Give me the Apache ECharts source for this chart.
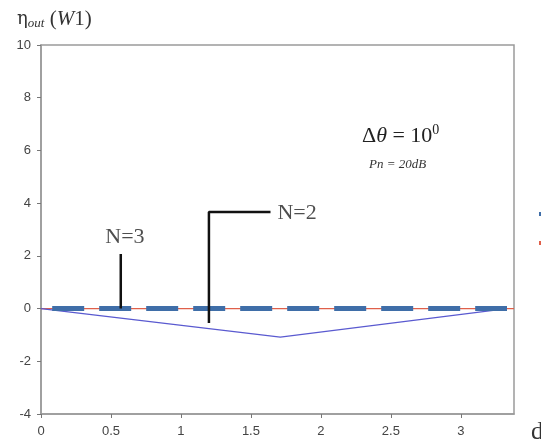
<!DOCTYPE html>
<html lang="en">
<head>
    <meta charset="UTF-8">
    <title>eta out</title>
    <script src="https://cdn.jsdelivr.net/npm/echarts@6/dist/echarts.min.js"></script>
    <style>
        html, body { margin: 0; padding: 0; background: #fff; }
    </style>
</head>
<body>
    <div id="main" style="width: 541px; height: 443px;"></div>

    <script type="text/javascript">
        // axis ticks
        var xTicks = [0, 0.5, 1, 1.5, 2, 2.5, 3];
        var yTicks = [-4, -2, 0, 2, 4, 6, 8, 10];

        // thick dashed blue series (flat at zero)
        var dashX = [0.08, 3.33];
        var dashY = [0, 0];
        // thin red series (flat at zero)
        var redX = [0, 3.38];
        var redY = [0, 0];
        // thin blue series (dips below zero)
        var thinX = [0, 1.71, 3.33];
        var thinY = [0, -1.08, 0];

        // N=3 / N=2 pointer lines, in data units
        var n3X = [0.57, 0.57];
        var n3Y = [0, 2.07];
        var n2X = [1.2, 1.2, 1.64];
        var n2Y = [-0.55, 3.66, 3.66];
        var noteNames = ['N=3', 'N=2'];
        var noteX = [0.6, 1.83];
        var noteY = [2.72, 3.63];

        function pairs(xs, ys) {
            var out = [];
            for (var i = 0; i < xs.length; i++) out.push([xs[i], ys[i]]);
            return out;
        }

        var noteData = [];
        for (var i = 0; i < noteNames.length; i++) {
            noteData.push({ value: [noteX[i], noteY[i]], name: noteNames[i] });
        }

        var myChart = echarts.init(document.getElementById('main'));
        var option = {
            animation: false,
            backgroundColor: '#fff',
            grid: {
                left: 41, top: 45, right: 27, bottom: 29,
                outerBoundsMode: 'none',
                show: true, borderColor: '#9a9a9a', borderWidth: 1.5
            },
            title: {
                left: 12, top: 3,
                text: '{e|η}{s|out}{w| (}{wi|W}{w|1)}',
                textStyle: {
                    rich: {
                        e: { fontFamily: 'DejaVu Serif', fontWeight: 'normal', fontSize: 18, color: '#333' },
                        s: { fontFamily: 'Liberation Serif', fontWeight: 'normal', fontStyle: 'italic', fontSize: 13, color: '#333', padding: [9, 0, 0, 0] },
                        w: { fontFamily: 'Liberation Serif', fontWeight: 'normal', fontSize: 21, color: '#333' },
                        wi: { fontFamily: 'Liberation Serif', fontWeight: 'normal', fontStyle: 'italic', fontSize: 21, color: '#333' }
                    }
                }
            },
            legend: {
                left: 534, top: 203, orient: 'vertical', itemGap: 17,
                itemWidth: 14, itemHeight: 4, icon: 'rect',
                data: ['Series 1', 'Series 2'],
                textStyle: { fontSize: 12, color: '#333' }
            },
            xAxis: {
                type: 'value', min: 0, max: 3.38, interval: 0.5,
                name: 'd', nameLocation: 'end', nameGap: 17,
                nameTextStyle: { fontFamily: 'Liberation Serif', fontSize: 25, color: '#333', verticalAlign: 'top', padding: [6, 0, 0, 0] },
                splitLine: { show: false },
                axisLine: { onZero: false, lineStyle: { color: '#9a9a9a', width: 1.5 } },
                axisTick: { length: 4, lineStyle: { color: '#777' } },
                axisLabel: {
                    showMaxLabel: false, margin: 11, fontFamily: 'Liberation Sans', fontSize: 13, color: '#444',
                    formatter: function (v) { return xTicks.indexOf(v) >= 0 ? String(v) : ''; }
                }
            },
            yAxis: {
                type: 'value', min: -4, max: 10, interval: 2,
                splitLine: { show: false },
                axisLine: { show: true, onZero: false, lineStyle: { color: '#9a9a9a', width: 1.5 } },
                axisTick: { show: true, length: 4, lineStyle: { color: '#777' } },
                axisLabel: {
                    margin: 10, fontFamily: 'Liberation Sans', fontSize: 13, color: '#444',
                    formatter: function (v) { return yTicks.indexOf(v) >= 0 ? String(v) : ''; }
                }
            },
            graphic: [
                {
                    type: 'text', left: 362, top: 123,
                    style: {
                        text: '{n|Δ}{i|θ}{n| = 10}{p|0}',
                        rich: {
                            n: { fontFamily: 'Liberation Serif', fontSize: 22, fill: '#222' },
                            i: { fontFamily: 'Liberation Serif', fontStyle: 'italic', fontSize: 22, fill: '#222' },
                            p: { fontFamily: 'Liberation Serif', fontSize: 14, fill: '#222', verticalAlign: 'top', padding: [0, 0, 12, 0] }
                        }
                    }
                },
                {
                    type: 'text', left: 369, top: 158,
                    style: {
                        text: 'Pn = 20dB',
                        font: 'italic 13px "Liberation Serif"',
                        fill: '#333'
                    }
                }
            ],
            series: [
                {
                    name: 'Series 2', type: 'line', showSymbol: false, z: 2,
                    data: pairs(redX, redY),
                    itemStyle: { color: '#e0604a' },
                    lineStyle: { color: '#e0604a', width: 1.2 }
                },
                {
                    name: 'Series 1', type: 'line', showSymbol: false, z: 3,
                    data: pairs(dashX, dashY),
                    itemStyle: { color: '#3f6ea8' },
                    lineStyle: { color: '#3f6ea8', width: 5, type: [32, 15], cap: 'butt' }
                },
                {
                    name: 'thin', type: 'line', showSymbol: false, z: 2,
                    data: pairs(thinX, thinY),
                    lineStyle: { color: '#5a5ad0', width: 1.2 }
                },
                {
                    name: 'n3', type: 'line', showSymbol: false, z: 4,
                    data: pairs(n3X, n3Y),
                    lineStyle: { color: '#111', width: 2.5 }
                },
                {
                    name: 'n2', type: 'line', showSymbol: false, z: 4,
                    data: pairs(n2X, n2Y),
                    lineStyle: { color: '#111', width: 2.5 }
                },
                {
                    name: 'notes', type: 'scatter', symbolSize: 0, z: 5,
                    data: noteData,
                    label: {
                        show: true, position: 'inside',
                        formatter: function (p) { return p.name; },
                        fontFamily: 'Liberation Serif', fontSize: 22, color: '#222'
                    }
                }
            ]
        };
        myChart.setOption(option);
    </script>
</body>
</html>
